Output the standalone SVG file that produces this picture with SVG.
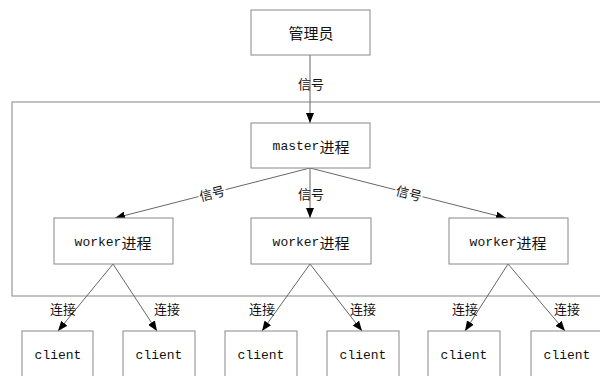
<svg xmlns="http://www.w3.org/2000/svg" width="600" height="376" viewBox="0 0 600 376">
<style>
.box{fill:#fff;stroke:#888;stroke-width:1}
.frame{fill:none;stroke:#999;stroke-width:1.2}
.t{font-family:"Liberation Mono","Noto Sans CJK SC",monospace;font-size:13px;fill:#111;text-anchor:middle;dominant-baseline:central}
.cjk{font-family:"Noto Sans CJK SC",sans-serif;font-size:15px}
.lbl{font-family:"Noto Sans CJK SC",sans-serif;font-size:13px;fill:#111;text-anchor:middle;dominant-baseline:central}
.ln{stroke:#666;stroke-width:1;fill:none;marker-end:url(#ah)}
</style>
<defs>
<marker id="ah" markerWidth="10" markerHeight="8" refX="10" refY="4" orient="auto" markerUnits="userSpaceOnUse">
<path d="M0,0 L10,4 L0,8 z" fill="#000"/>
</marker>
</defs>
<rect width="600" height="376" fill="#fff"/>
<rect id="container" class="frame" x="12" y="102" width="600" height="194"/>
<g id="connectors">
<line class="ln" x1="310" y1="55" x2="310" y2="123"/>
<line class="ln" x1="310" y1="168" x2="115" y2="218"/>
<line class="ln" x1="310" y1="168" x2="310" y2="218"/>
<line class="ln" x1="310" y1="168" x2="506" y2="218"/>
<line class="ln" x1="113" y1="264" x2="58" y2="331"/>
<line class="ln" x1="113" y1="264" x2="157" y2="331"/>
<line class="ln" x1="310" y1="264" x2="262" y2="331"/>
<line class="ln" x1="310" y1="264" x2="362" y2="331"/>
<line class="ln" x1="508" y1="264" x2="465" y2="331"/>
<line class="ln" x1="508" y1="264" x2="565" y2="331"/>
<text class="lbl" x="311" y="83">信号</text>
<text class="lbl" x="311" y="193">信号</text>
<g transform="translate(212,193) rotate(-14.4)"><rect x="-14" y="-8" width="28" height="16" fill="#fff"/><text class="lbl" x="0" y="0">信号</text></g>
<g transform="translate(409,193) rotate(14.4)"><rect x="-14" y="-8" width="28" height="16" fill="#fff"/><text class="lbl" x="0" y="0">信号</text></g>
<text class="lbl" x="63" y="308">连接</text>
<text class="lbl" x="167" y="308">连接</text>
<text class="lbl" x="262" y="308">连接</text>
<text class="lbl" x="363" y="308">连接</text>
<text class="lbl" x="465" y="308">连接</text>
<text class="lbl" x="567" y="308">连接</text>
</g>
<g id="admin"><rect class="box" x="251" y="10" width="119" height="45"/><text class="lbl" x="311" y="32" style="font-size:15px">管理员</text></g>
<g id="master"><rect class="box" x="251" y="123" width="119" height="45"/><text class="t" x="311" y="146">master<tspan class="cjk">进程</tspan></text></g>
<g id="worker1"><rect class="box" x="54" y="218" width="119" height="46"/><text class="t" x="113" y="242">worker<tspan class="cjk">进程</tspan></text></g>
<g id="worker2"><rect class="box" x="251" y="218" width="120" height="46"/><text class="t" x="311" y="242">worker<tspan class="cjk">进程</tspan></text></g>
<g id="worker3"><rect class="box" x="449" y="218" width="119" height="46"/><text class="t" x="508" y="242">worker<tspan class="cjk">进程</tspan></text></g>
<g id="client1"><rect class="box" x="22" y="331" width="71" height="50"/><text class="t" x="58" y="355">client</text></g>
<g id="client2"><rect class="box" x="123" y="331" width="72" height="50"/><text class="t" x="159" y="355">client</text></g>
<g id="client3"><rect class="box" x="225" y="331" width="72" height="50"/><text class="t" x="261" y="355">client</text></g>
<g id="client4"><rect class="box" x="327" y="331" width="72" height="50"/><text class="t" x="363" y="355">client</text></g>
<g id="client5"><rect class="box" x="428" y="331" width="72" height="50"/><text class="t" x="464" y="355">client</text></g>
<g id="client6"><rect class="box" x="531" y="331" width="72" height="50"/><text class="t" x="567" y="355">client</text></g>
</svg>
